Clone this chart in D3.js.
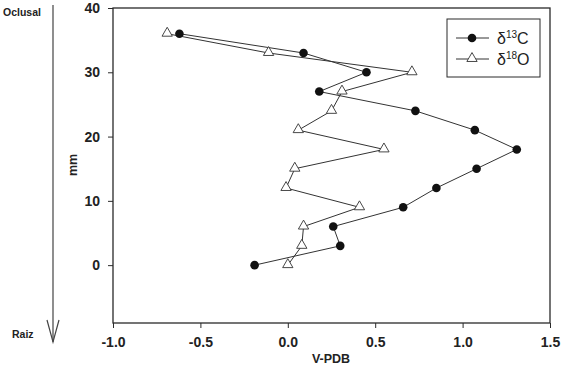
<!DOCTYPE html>
<html lang="en">
<head>
<meta charset="utf-8">
<title>isotopes</title>
<script src="https://d3js.org/d3.v7.min.js"></script>
<style>
  body { margin: 0; background: #fff; }
  text { font-family: "Liberation Sans", Arial, sans-serif; font-weight: bold; fill: #222; }
</style>
</head>
<body>
<svg id="chart" width="571" height="371"></svg>
<script>
// data
var mm = [36, 33, 30, 27, 24, 21, 18, 15, 12, 9, 6, 3, 0]
var carbon = [-0.62, 0.09, 0.45, 0.18, 0.73, 1.07, 1.31, 1.08, 0.85, 0.66, 0.26, 0.30, -0.19]
var oxygen = [-0.69, -0.11, 0.71, 0.31, 0.25, 0.06, 0.55, 0.04, -0.01, 0.41, 0.09, 0.08, 0.0]
var xTicks = [-1.0, -0.5, 0.0, 0.5, 1.0, 1.5]
var yTicks = [0, 10, 20, 30, 40]

var ink = "#2a2a2a"
var svg = d3.select("#chart")

var margin = {left: 113, right: 21, top: 8, bottom: 48}
var width = 571 - margin.left - margin.right
var height = 371 - margin.top - margin.bottom

var x = d3.scaleLinear().domain([-1, 1.5]).range([0, width])
var y = d3.scaleLinear().domain([-9, 40]).range([height, 0])

var g = svg.append("g").attr("transform", "translate(" + margin.left + "," + margin.top + ")")

// frame
g.append("rect").attr("width", width).attr("height", height)
  .attr("fill", "none").attr("stroke", ink).attr("stroke-width", 1.3)

var fmt = function(d) { return d.toFixed(1) }  // plain hyphen like the original
var xAxis = g.append("g").attr("transform", "translate(0," + height + ")")
  .call(d3.axisBottom(x).tickValues(xTicks).tickFormat(fmt).tickSize(5).tickSizeOuter(0))
var yAxis = g.append("g")
  .call(d3.axisLeft(y).tickValues(yTicks).tickSize(5).tickSizeOuter(0))
;[xAxis, yAxis].forEach(function(a) {
  a.select(".domain").remove()
  a.selectAll("line").attr("stroke", ink)
  a.selectAll("text").attr("font-size", 14).attr("font-family", "Liberation Sans, Arial, sans-serif")
    .attr("font-weight", "bold").attr("fill", "#222")
})
xAxis.selectAll("text").attr("dy", "1.15em")
yAxis.selectAll("text").attr("dx", "-0.35em")

// series
var line = d3.line().x(function(d) { return x(d[0]) }).y(function(d) { return y(d[1]) })
var cData = carbon.map(function(v, i) { return [v, mm[i]] })
var oData = oxygen.map(function(v, i) { return [v, mm[i]] })

g.append("path").datum(oData).attr("d", line).attr("fill", "none").attr("stroke", "#333").attr("stroke-width", 1)
g.append("path").datum(cData).attr("d", line).attr("fill", "none").attr("stroke", "#333").attr("stroke-width", 1)

var tri = d3.symbol().type(d3.symbolTriangle).size(46)
g.selectAll(".tri").data(oData).enter().append("path")
  .attr("d", tri)
  .attr("transform", function(d) { return "translate(" + x(d[0]) + "," + (y(d[1]) - 0.5) + ")" })
  .attr("fill", "#fff").attr("stroke", "#333").attr("stroke-width", 0.9)

g.selectAll(".dot").data(cData).enter().append("circle")
  .attr("cx", function(d) { return x(d[0]) })
  .attr("cy", function(d) { return y(d[1]) })
  .attr("r", 4.3).attr("fill", "#111")

// legend
var lg = svg.append("g").attr("transform", "translate(447,19)")
lg.append("rect").attr("width", 93).attr("height", 58).attr("fill", "#fff").attr("stroke", ink).attr("stroke-width", 1)
lg.append("line").attr("x1", 9).attr("x2", 42).attr("y1", 19).attr("y2", 19).attr("stroke", "#333")
lg.append("circle").attr("cx", 25).attr("cy", 19).attr("r", 4.3).attr("fill", "#111")
lg.append("line").attr("x1", 9).attr("x2", 42).attr("y1", 40).attr("y2", 40).attr("stroke", "#333")
lg.append("path").attr("d", tri).attr("transform", "translate(25,39.5)").attr("fill", "#fff").attr("stroke", "#333").attr("stroke-width", 0.9)

var labels = [["13", "C", 19], ["18", "O", 40]]
labels.forEach(function(l) {
  var t = lg.append("text").attr("x", 50).attr("y", l[2] + 6).attr("font-size", 16).style("font-weight", "normal").attr("fill", "#333")
  t.append("tspan").text("\u03b4")
  t.append("tspan").attr("font-size", 10).attr("dy", -6).text(l[0])
  t.append("tspan").attr("dy", 6).text(l[1])
})

// axis titles
svg.append("text").attr("x", 331).attr("y", 363).attr("text-anchor", "middle").attr("font-size", 12.5).text("V-PDB")
svg.append("text").attr("transform", "translate(77,165) rotate(-90)").attr("text-anchor", "middle").attr("font-size", 12.5).text("mm")

// left arrow Oclusal -> Raiz
svg.append("line").attr("x1", 53).attr("x2", 53).attr("y1", 5).attr("y2", 342).attr("stroke", "#444").attr("stroke-width", 1.2)
svg.append("path").attr("d", "M47,320 L53,342 L59,320").attr("fill", "none").attr("stroke", "#444").attr("stroke-width", 1.2)
svg.append("text").attr("x", 3).attr("y", 16).attr("font-size", 10.5).text("Oclusal")
svg.append("text").attr("x", 12).attr("y", 338).attr("font-size", 10.5).text("Raiz")
</script>
</body>
</html>
